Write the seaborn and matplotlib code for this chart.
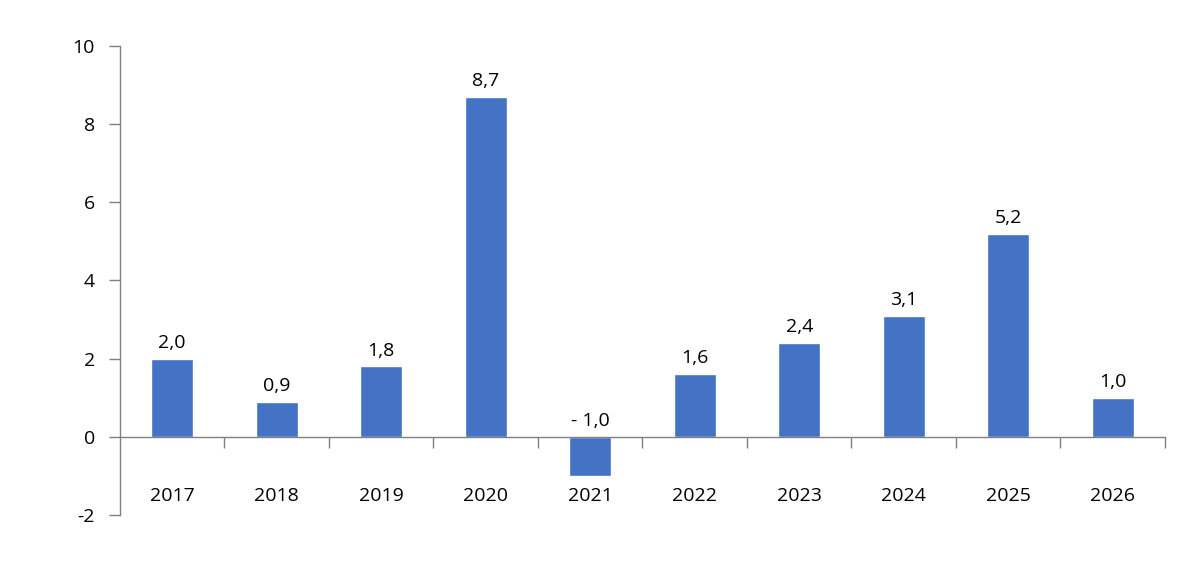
import matplotlib
matplotlib.use("Agg")
import matplotlib.pyplot as plt
import seaborn as sns
import pandas as pd
from matplotlib.ticker import FixedLocator

years = ["2017", "2018", "2019", "2020", "2021", "2022", "2023", "2024", "2025", "2026"]
values = [2.0, 0.9, 1.8, 8.7, -1.0, 1.6, 2.4, 3.1, 5.2, 1.0]
yticks = [-2, 0, 2, 4, 6, 8, 10]

sns.set_theme(style="white")
plt.rcParams['font.family'] = ['Open Sans', 'DejaVu Sans']

df = pd.DataFrame({"year": years, "value": values})

fig = plt.figure(figsize=(12, 5.69), dpi=100)
ax = fig.add_axes([0.1, 0.0949, 0.8708, 0.8243])

sns.barplot(data=df, x="year", y="value", color="#4472C4", width=0.4,
            saturation=1, ax=ax)

ax.set_ylim(-2, 10)
ax.set_xlim(-0.5, len(years) - 0.5)
ax.set_yticks(yticks)
ax.set_yticklabels([str(t) for t in yticks], fontsize=14, color="#000000")
ax.set_xlabel("")
ax.set_ylabel("")

gray = "#808080"
for s in ["top", "right"]:
    ax.spines[s].set_visible(False)
ax.spines["left"].set_color(gray)
ax.spines["bottom"].set_color(gray)
ax.spines["bottom"].set_position(("data", 0))
ax.spines["left"].set_linewidth(1)
ax.spines["bottom"].set_linewidth(1)

ax.tick_params(axis="y", direction="out", length=8, width=1, color=gray, pad=10, left=True)
ax.tick_params(axis="x", which="major", length=0, pad=36, labelsize=14, labelcolor="#000000", bottom=True)
ax.xaxis.set_minor_locator(FixedLocator([i + 0.5 for i in range(len(years))]))
ax.tick_params(axis="x", which="minor", direction="out", length=8, width=1, color=gray, bottom=True)

for i, v in enumerate(values):
    if v >= 0:
        txt = f"{v:.1f}".replace(".", ",")
        y = v
    else:
        txt = "- " + f"{abs(v):.1f}".replace(".", ",")
        y = 0
    ax.annotate(txt, (i, y), xytext=(0, 5), textcoords="offset points",
                ha="center", va="bottom", fontsize=14, color="#000000")

fig.savefig("out.png", dpi=100)
